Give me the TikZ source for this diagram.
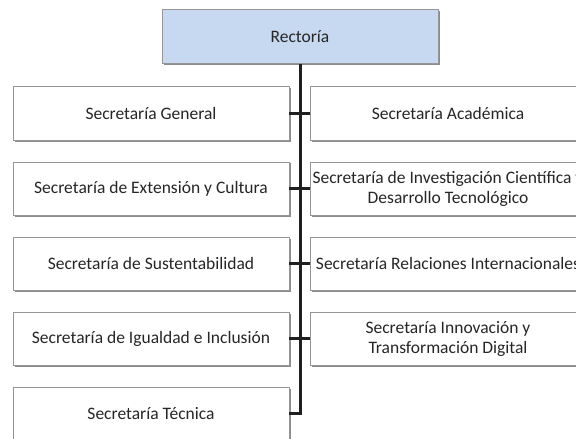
\documentclass[tikz,border=0pt]{standalone}
\usepackage{fontspec}
\setmainfont{Carlito}
\usepackage{tikz}
\usetikzlibrary{shadows}
\definecolor{rectFill}{RGB}{198,217,240}
\definecolor{boxLine}{RGB}{150,150,150}
\definecolor{txtDark}{RGB}{38,38,38}
\tikzset{secbox/.style={draw=boxLine, line width=0.6pt, fill=white, text=txtDark,
  minimum width=276pt, minimum height=53.5pt, inner sep=0pt, align=center,
  font=\fontsize{17.5}{20}\selectfont,
  drop shadow={shadow xshift=1.6pt, shadow yshift=-1.6pt, fill=black!45, opacity=1}},
  orgline/.style={line width=3pt, black!88}}

\begin{document}
\begin{tikzpicture}[x=1pt, y=-1pt]
\clip (0,0) rectangle (576,439);
% top box
\node[secbox, fill=rectFill] (Rect) at (300,36.5) {Rectoría};
% left column
\node[secbox] (SGen) at (151,113.5) {Secretaría General};
\node[secbox] (SExt) at (151,188.6) {Secretaría de Extensión y Cultura};
\node[secbox] (SSus) at (151,263.7) {Secretaría de Sustentabilidad};
\node[secbox] (SIgu) at (151,338.8) {Secretaría de Igualdad e Inclusión};
\node[secbox] (STec) at (151,413.9) {Secretaría Técnica};
% right column
\node[secbox] (SAcad) at (448,113.5) {Secretaría Académica};
\node[secbox] (SInv) at (448,188.6) {Secretaría de Investigación Científica y\\ Desarrollo Tecnológico};
\node[secbox] (SRel) at (448,263.7) {Secretaría Relaciones Internacionales};
\node[secbox] (SInn) at (448,338.8) {Secretaría Innovación y\\ Transformación Digital};
% connectors
\draw[orgline] (Rect.south) -- (Rect.south |- STec.east) -- (STec.east);
\foreach \l/\r in {SGen/SAcad, SExt/SInv, SSus/SRel, SIgu/SInn}
  \draw[orgline] (\l.east) -- (\r.west);
\end{tikzpicture}
\end{document}
